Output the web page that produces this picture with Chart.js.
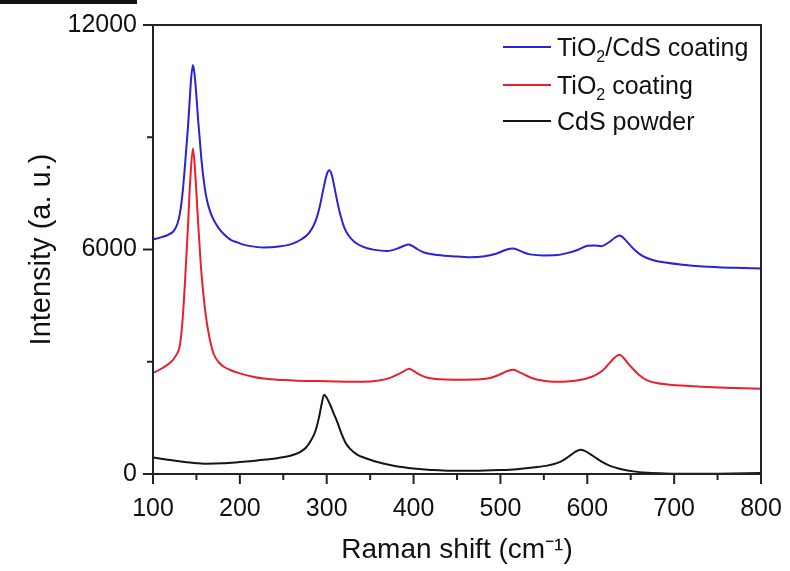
<!DOCTYPE html>
<html>
<head>
<meta charset="utf-8">
<script src="https://cdn.jsdelivr.net/npm/chart.js@4.4.1/dist/chart.umd.min.js"></script>
<style>
html,body{margin:0;padding:0;background:#fff;}
canvas{display:block;}
</style>
</head>
<body>
<canvas id="c" width="790" height="571"></canvas>
<script>
// ---- data ----
const seriesNames = ['TiO₂/CdS coating', 'TiO₂ coating', 'CdS powder'];
const xTickValues = [100, 200, 300, 400, 500, 600, 700, 800];
const yTickValues = [0, 6000, 12000];

const blueX = [100,110,118,124,128,131,134,137,140,142,144,146,148,150,152,154,156,159,162,166,171,176,182,190,197,204,212,227,245,260,270,280,287,292,296,300,303,306,309,312,316,320,325,332,342,355,370,382,389,394,399,405,412,425,445,465,482,496,505,511,515,520,527,534,550,565,578,590,600,608,616,624,631,637,642,648,655,664,675,690,710,733,770,800];
const blueY = [6270,6330,6400,6500,6680,6965,7500,8300,9189,9900,10600,10930,10650,10100,9450,8900,8350,7750,7330,7000,6740,6560,6400,6250,6190,6130,6090,6055,6080,6150,6260,6450,6750,7150,7600,8000,8117,7980,7650,7300,6900,6600,6380,6200,6070,5990,5960,6030,6100,6135,6090,6000,5920,5860,5820,5790,5820,5894,5980,6020,6030,5990,5920,5870,5840,5850,5910,6000,6100,6110,6090,6180,6300,6376,6300,6150,5980,5820,5720,5650,5590,5546,5510,5492];

const redX = [100,110,120,126,131,134,137,140,143,146,149,152,155,158,161,165,170,176,182,189,200,215,227,250,266,300,342,360,373,382,389,395,401,408,415,430,445,470,485,495,503,509,515,521,528,537,550,561,580,600,610,618,625,631,637,642,647,653,660,669,680,695,733,770,800];
const redY = [2700,2820,2980,3150,3450,4100,5200,6500,7900,8700,7900,6700,5600,4800,4200,3650,3200,2980,2860,2780,2690,2600,2550,2510,2495,2480,2465,2500,2570,2660,2750,2813,2740,2640,2580,2530,2518,2525,2550,2620,2700,2760,2786,2730,2650,2560,2490,2465,2480,2560,2650,2770,2950,3100,3188,3100,2950,2800,2640,2500,2430,2384,2331,2300,2277];

const blackX = [100,115,130,145,162,180,200,215,230,245,258,268,276,282,287,291,294,297,300,304,308,312,317,322,327,335,345,355,365,380,400,420,442,470,500,519,540,555,565,573,580,586,592,597,603,610,618,627,637,653,670,690,710,750,800];
const blackY = [440,390,340,300,275,285,320,350,385,430,490,570,700,900,1150,1500,1850,2120,2040,1850,1620,1400,1080,820,670,520,420,340,280,210,150,110,85,85,105,130,180,230,290,380,490,590,650,620,540,430,310,210,140,70,35,15,5,10,30];

const seriesColors = ['#2a22d8', '#e8202c', '#151515'];

function pts(xs, ys){ return xs.map((x,i)=>({x:x, y:ys[i]})); }

const axisColor = '#222';
const textColor = '#111';
const FONT = "'Liberation Sans', Arial, sans-serif";

// draw text where "₂" is rendered as a real lowered subscript
function drawRich(ctx, text, x, y, size){
  const parts = text.split('₂');
  let cx = x;
  ctx.textBaseline = 'alphabetic';
  ctx.textAlign = 'left';
  parts.forEach((p, i) => {
    ctx.font = size + 'px ' + FONT;
    ctx.fillText(p, cx, y);
    cx += ctx.measureText(p).width;
    if (i < parts.length - 1) {
      const s = Math.round(size * 0.62);
      ctx.font = s + 'px ' + FONT;
      ctx.fillText('2', cx, y + size * 0.22);
      cx += ctx.measureText('2').width;
    }
  });
}

const framePlugin = {
  id: 'frame',
  beforeDraw(chart){
    const ctx = chart.ctx;
    ctx.save();
    ctx.fillStyle = '#fff';
    ctx.fillRect(0, 0, chart.width, chart.height);
    ctx.fillStyle = '#111';
    ctx.fillRect(0, 0, 137, 4);
    ctx.restore();
  },
  afterDraw(chart){
    const ctx = chart.ctx;
    const a = chart.chartArea;
    const xs = chart.scales.x, ys = chart.scales.y;
    ctx.save();
    ctx.strokeStyle = axisColor;
    ctx.lineWidth = 2;
    ctx.strokeRect(a.left, a.top, a.right - a.left, a.bottom - a.top);
    ctx.beginPath();
    for (let v = 100; v <= 800; v += 50) {
      const px = xs.getPixelForValue(v);
      const len = (v % 100 === 0) ? 10 : 6;
      ctx.moveTo(px, a.bottom);
      ctx.lineTo(px, a.bottom + len);
    }
    for (let v = 0; v <= 12000; v += 3000) {
      const py = ys.getPixelForValue(v);
      const len = (v % 6000 === 0) ? 10 : 6;
      ctx.moveTo(a.left, py);
      ctx.lineTo(a.left - len, py);
    }
    ctx.stroke();
    // legend
    const rows = [47, 85, 121];
    seriesNames.forEach((name, i) => {
      ctx.strokeStyle = seriesColors[i];
      ctx.lineWidth = 2;
      ctx.beginPath();
      ctx.moveTo(503, rows[i]);
      ctx.lineTo(551, rows[i]);
      ctx.stroke();
      ctx.fillStyle = textColor;
      drawRich(ctx, name, 557, rows[i] + 9, 25);
    });
    ctx.restore();
  }
};

new Chart(document.getElementById('c'), {
  type: 'line',
  data: {
    datasets: [
      { label: seriesNames[0], data: pts(blueX, blueY), borderColor: seriesColors[0] },
      { label: seriesNames[1], data: pts(redX, redY), borderColor: seriesColors[1] },
      { label: seriesNames[2], data: pts(blackX, blackY), borderColor: seriesColors[2] }
    ]
  },
  options: {
    responsive: false,
    animation: false,
    parsing: false,
    datasets: { line: { borderWidth: 2, pointRadius: 0, fill: false, cubicInterpolationMode: 'monotone' } },
    layout: { padding: { top: 25, right: 29, left: 0, bottom: 0 } },
    plugins: { legend: { display: false }, tooltip: { enabled: false } },
    scales: {
      x: {
        type: 'linear', min: 100, max: 800,
        afterBuildTicks: s => { s.ticks = xTickValues.map(v => ({ value: v })); },
        afterFit: s => { s.height = 97; s.paddingLeft = 0; s.paddingRight = 0; },
        grid: { display: false },
        border: { display: false },
        ticks: { color: textColor, font: { size: 25, family: FONT }, padding: 12, maxRotation: 0, autoSkip: false },
        title: { display: true, text: 'Raman shift (cm⁻¹)', color: textColor, font: { size: 28, family: FONT }, padding: { top: 0, bottom: 4 } }
      },
      y: {
        type: 'linear', min: 0, max: 12000,
        afterBuildTicks: s => { s.ticks = yTickValues.map(v => ({ value: v })); },
        afterFit: s => { s.width = 153; s.paddingTop = 0; s.paddingBottom = 0; },
        grid: { display: false },
        border: { display: false },
        ticks: { color: textColor, font: { size: 25, family: FONT }, padding: 8, callback: v => String(v) },
        title: { display: true, text: 'Intensity (a. u.)', color: textColor, font: { size: 29, family: FONT }, padding: { top: 25, bottom: 0 } }
      }
    }
  },
  plugins: [framePlugin]
});
</script>
</body>
</html>
